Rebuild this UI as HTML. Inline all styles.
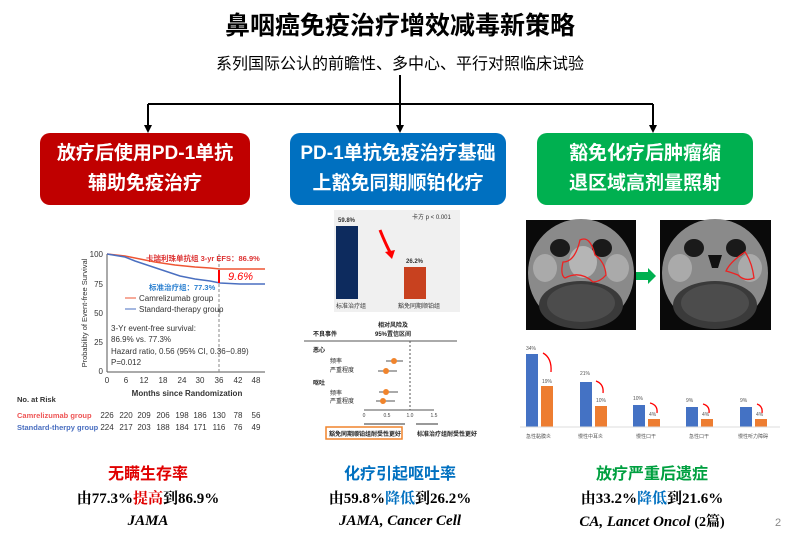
<!DOCTYPE html>
<html><head><meta charset="utf-8"><style>
body{margin:0;width:800px;height:546px;background:#fff;position:relative;overflow:hidden;font-family:"Liberation Sans","Noto Sans CJK SC",sans-serif}
.a{position:absolute}
.box{position:absolute;top:133px;height:72px;border-radius:10px;color:#fff;font-size:19px;font-weight:bold;text-align:center;line-height:30px;display:flex;align-items:center;justify-content:center}
.t1{font-size:16px;font-weight:bold;text-align:center;width:260px}
.t2{font-size:15px;font-weight:bold;text-align:center;width:260px;font-family:"Liberation Serif","Noto Serif CJK SC",serif}
.t3{font-size:15px;font-style:italic;font-weight:bold;text-align:center;width:260px;font-family:"Liberation Serif","Noto Serif CJK SC",serif;white-space:nowrap}
</style></head><body>
<div class="a" style="left:0;width:800px;top:6px;text-align:center;font-size:25px;font-weight:bold">鼻咽癌免疫治疗增效减毒新策略</div>
<div class="a" style="left:0;width:800px;top:50px;text-align:center;font-size:16px">系列国际公认的前瞻性、多中心、平行对照临床试验</div>
<svg class="a" style="left:0;top:0" width="800" height="546">
<g stroke="#000" stroke-width="2" fill="none">
<line x1="400" y1="75" x2="400" y2="126"/>
<line x1="148" y1="104" x2="653" y2="104"/>
<line x1="148" y1="104" x2="148" y2="126"/>
<line x1="653" y1="104" x2="653" y2="126"/>
</g>
<path d="M144,125 L152,125 L148,133z M396,125 L404,125 L400,133z M649,125 L657,125 L653,133z" fill="#000"/>
<g font-size="8" fill="#333">
<line x1="107" y1="254" x2="107" y2="372" stroke="#555"/>
<line x1="107" y1="372" x2="265" y2="372" stroke="#555"/>
<text x="103" y="257" text-anchor="end">100</text><text x="103" y="287" text-anchor="end">75</text><text x="103" y="316" text-anchor="end">50</text><text x="103" y="345" text-anchor="end">25</text><text x="103" y="374" text-anchor="end">0</text>
<g text-anchor="middle"><text x="107" y="383">0</text><text x="126" y="383">6</text><text x="144" y="383">12</text><text x="163" y="383">18</text><text x="182" y="383">24</text><text x="200" y="383">30</text><text x="219" y="383">36</text><text x="238" y="383">42</text><text x="256" y="383">48</text></g>
<text x="187" y="396" text-anchor="middle" font-weight="bold">Months since Randomization</text>
<text transform="translate(87,313) rotate(-90)" text-anchor="middle" font-size="7.5">Probability of Event-free Survival</text>
<polyline points="107,254 125,256 140,259 155,262 175,265 195,267 210,268 220,269 265,269" fill="none" stroke="#e53" stroke-width="1.5"/>
<polyline points="107,254 125,257 135,261 150,266 165,271 180,276 195,279 210,281 220,283 240,284 265,284" fill="none" stroke="#4a6fc0" stroke-width="1.5"/>
<line x1="219" y1="254" x2="219" y2="372" stroke="#888" stroke-dasharray="3,2"/>
<line x1="219" y1="270" x2="219" y2="283" stroke="red" stroke-width="2"/>
<text x="228" y="280" fill="red" font-size="11" font-style="italic">9.6%</text>
<text x="146" y="261" fill="#d33" font-weight="bold" font-size="7.5">卡瑞利珠单抗组 3-yr EFS：86.9%</text>
<text x="149" y="290" fill="#2a7fd0" font-weight="bold" font-size="7.5">标准治疗组：77.3%</text>
<line x1="125" y1="298" x2="136" y2="298" stroke="#e53"/><text x="139" y="301">Camrelizumab group</text>
<line x1="125" y1="309" x2="136" y2="309" stroke="#4a6fc0"/><text x="139" y="312">Standard-therapy group</text>
<text x="111" y="331">3-Yr event-free survival:</text>
<text x="111" y="342">86.9% vs. 77.3%</text>
<text x="111" y="354">Hazard ratio, 0.56 (95% CI, 0.36−0.89)</text>
<text x="111" y="365">P=0.012</text>
<text x="17" y="402" font-weight="bold" font-size="7.5">No. at Risk</text>
<text x="17" y="418" fill="#e55" font-weight="bold" font-size="7.5">Camrelizumab group</text>
<text x="17" y="430" fill="#4a6fc0" font-weight="bold" font-size="7.5">Standard-therpy group</text>
<g text-anchor="middle"><text x="107" y="418">226</text><text x="126" y="418">220</text><text x="144" y="418">209</text><text x="163" y="418">206</text><text x="182" y="418">198</text><text x="200" y="418">186</text><text x="219" y="418">130</text><text x="238" y="418">78</text><text x="256" y="418">56</text>
<text x="107" y="430">224</text><text x="126" y="430">217</text><text x="144" y="430">203</text><text x="163" y="430">188</text><text x="182" y="430">184</text><text x="200" y="430">171</text><text x="219" y="430">116</text><text x="238" y="430">76</text><text x="256" y="430">49</text></g>
</g>
<rect x="334" y="210" width="126" height="102" fill="#f0f0f0"/>
<rect x="336" y="226" width="22" height="73" fill="#0d2b5e"/>
<rect x="404" y="267" width="22" height="32" fill="#c8411f"/>
<g font-size="6" fill="#333"><text x="338" y="222" font-weight="bold">59.8%</text><text x="406" y="263" font-weight="bold">26.2%</text>
<text x="412" y="219">卡方 p &lt; 0.001</text><text x="336" y="308">标准治疗组</text><text x="398" y="308">豁免同期顺铂组</text></g>
<path d="M380,230 Q386,245 391,254" stroke="red" stroke-width="3" fill="none"/><path d="M385,252 L395,250 L392,259z" fill="red"/>
<g font-size="6" fill="#222" font-weight="bold">
<text x="393" y="327" text-anchor="middle">相对风险及</text><text x="393" y="336" text-anchor="middle">95%置信区间</text>
<text x="313" y="336">不良事件</text><line x1="304" y1="341" x2="457" y2="341" stroke="#555"/>
<text x="313" y="352">恶心</text><text x="313" y="385">呕吐</text>
<text x="330" y="363" font-weight="normal">频率</text><text x="330" y="372" font-weight="normal">严重程度</text>
<text x="330" y="395" font-weight="normal">频率</text><text x="330" y="403" font-weight="normal">严重程度</text>
</g>
<line x1="410" y1="341" x2="410" y2="410" stroke="#555" stroke-dasharray="2,2"/>
<g stroke="#555"><line x1="386" y1="361" x2="403" y2="361"/><line x1="378" y1="371" x2="397" y2="371"/><line x1="379" y1="392" x2="398" y2="392"/><line x1="376" y1="401" x2="395" y2="401"/>
<line x1="364" y1="410" x2="434" y2="410"/></g>
<g fill="#f0842c"><circle cx="394" cy="361" r="3"/><circle cx="386" cy="371" r="3"/><circle cx="386" cy="392" r="3"/><circle cx="383" cy="401" r="3"/></g>
<g font-size="5" fill="#444" text-anchor="middle"><text x="364" y="417">0</text><text x="387" y="417">0.5</text><text x="410" y="417">1.0</text><text x="434" y="417">1.5</text></g>
<line x1="364" y1="424" x2="405" y2="424" stroke="#333"/><line x1="416" y1="424" x2="438" y2="424" stroke="#333"/>
<rect x="326" y="427" width="76" height="12" fill="none" stroke="#f0842c" stroke-width="1.5"/>
<g font-size="6" fill="#222" font-weight="bold"><text x="329" y="436">豁免同期顺铂组耐受性更好</text><text x="417" y="436">标准治疗组耐受性更好</text></g>
<!-- MRI left -->
<rect x="526" y="220" width="110" height="110" fill="#0a0a0a"/>
<ellipse cx="581" cy="273" rx="53" ry="54" fill="#8a8a8a"/>
<ellipse cx="581" cy="305" rx="42" ry="24" fill="#3a3a3a"/>
<ellipse cx="581" cy="303" rx="34" ry="19" fill="#4c4c4c"/>
<ellipse cx="560" cy="248" rx="10" ry="9" fill="#1a1a1a"/><ellipse cx="602" cy="248" rx="10" ry="9" fill="#1a1a1a"/>
<ellipse cx="545" cy="268" rx="12" ry="14" fill="#aaa"/><ellipse cx="617" cy="268" rx="12" ry="14" fill="#aaa"/>
<ellipse cx="583" cy="262" rx="14" ry="16" fill="#b5b5b5"/>
<path d="M580,240 Q590,235 595,255 Q605,262 606,275 Q600,282 593,282 Q580,270 565,278 Q560,275 563,262 Q575,262 580,240z" fill="none" stroke="#e22" stroke-width="1.3"/>
<!-- MRI right -->
<rect x="660" y="220" width="111" height="110" fill="#0a0a0a"/>
<ellipse cx="715" cy="273" rx="53" ry="54" fill="#8a8a8a"/>
<ellipse cx="715" cy="305" rx="42" ry="24" fill="#3a3a3a"/>
<ellipse cx="715" cy="303" rx="34" ry="19" fill="#4c4c4c"/>
<ellipse cx="694" cy="248" rx="10" ry="9" fill="#1a1a1a"/><ellipse cx="736" cy="248" rx="10" ry="9" fill="#1a1a1a"/>
<ellipse cx="680" cy="268" rx="12" ry="14" fill="#aaa"/><ellipse cx="750" cy="268" rx="12" ry="14" fill="#aaa"/>
<path d="M708,255 L722,255 L718,268 L712,268z" fill="#111"/>
<path d="M745,252 Q752,262 754,278 Q745,282 738,275 Q730,272 726,271 Q730,262 745,252z" fill="none" stroke="#e22" stroke-width="1.3"/>
<path d="M636,272 L648,272 L648,268 L656,276 L648,284 L648,280 L636,280z" fill="#00b050"/>
<g>
<rect x="526" y="354" width="12" height="73" fill="#4472c4"/><rect x="541" y="386" width="12" height="41" fill="#ed7d31"/>
<rect x="580" y="382" width="12" height="45" fill="#4472c4"/><rect x="595" y="406" width="12" height="21" fill="#ed7d31"/>
<rect x="633" y="405" width="12" height="22" fill="#4472c4"/><rect x="648" y="419" width="12" height="8" fill="#ed7d31"/>
<rect x="686" y="407" width="12" height="20" fill="#4472c4"/><rect x="701" y="419" width="12" height="8" fill="#ed7d31"/>
<rect x="740" y="407" width="12" height="20" fill="#4472c4"/><rect x="755" y="419" width="12" height="8" fill="#ed7d31"/>
<line x1="520" y1="427" x2="780" y2="427" stroke="#ddd"/>
<g font-size="5" fill="#555"><text x="526" y="350">34%</text><text x="542" y="383">19%</text><text x="580" y="375">21%</text><text x="596" y="402">10%</text><text x="633" y="400">10%</text><text x="649" y="416">4%</text><text x="686" y="402">9%</text><text x="702" y="416">4%</text><text x="740" y="402">9%</text><text x="756" y="416">4%</text>
<text x="526" y="438">急性黏膜炎</text><text x="578" y="438">慢性中耳炎</text><text x="636" y="438">慢性口干</text><text x="689" y="438">急性口干</text><text x="738" y="438">慢性听力障碍</text></g>
<g stroke="red" stroke-width="1.3" fill="none"><path d="M543,353 Q552,358 551,372"/><path d="M596,381 Q604,384 603,393"/><path d="M650,403 Q658,405 657,413"/><path d="M703,404 Q710,406 709,413"/><path d="M757,404 Q763,406 762,413"/></g>
</g>
</svg>
<div class="box" style="left:40px;width:210px;background:#c00000">放疗后使用PD-1单抗<br>辅助免疫治疗</div>
<div class="box" style="left:290px;width:216px;background:#0070c0">PD-1单抗免疫治疗基础<br>上豁免同期顺铂化疗</div>
<div class="box" style="left:537px;width:216px;background:#00b050">豁免化疗后肿瘤缩<br>退区域高剂量照射</div>
<div class="a t1" style="left:18px;top:460px;color:#e00000">无瞒生存率</div>
<div class="a t1" style="left:270px;top:460px;color:#0070c0">化疗引起呕吐率</div>
<div class="a t1" style="left:522px;top:460px;color:#00a040">放疗严重后遗症</div>
<div class="a t2" style="left:18px;top:487px">由77.3%<span style="color:#e00000">提高</span>到86.9%</div>
<div class="a t2" style="left:270px;top:487px">由59.8%<span style="color:#0070c0">降低</span>到26.2%</div>
<div class="a t2" style="left:522px;top:487px">由33.2%<span style="color:#0070c0">降低</span>到21.6%</div>
<div class="a t3" style="left:18px;top:513px">JAMA</div>
<div class="a t3" style="left:270px;top:513px">JAMA, Cancer Cell</div>
<div class="a t3" style="left:522px;top:513px;line-height:18px">CA, Lancet Oncol <span style="font-style:normal;font-size:14px">(2篇)</span></div>
<div class="a" style="left:775px;top:517px;font-size:11px;color:#888">2</div>
</body></html>
